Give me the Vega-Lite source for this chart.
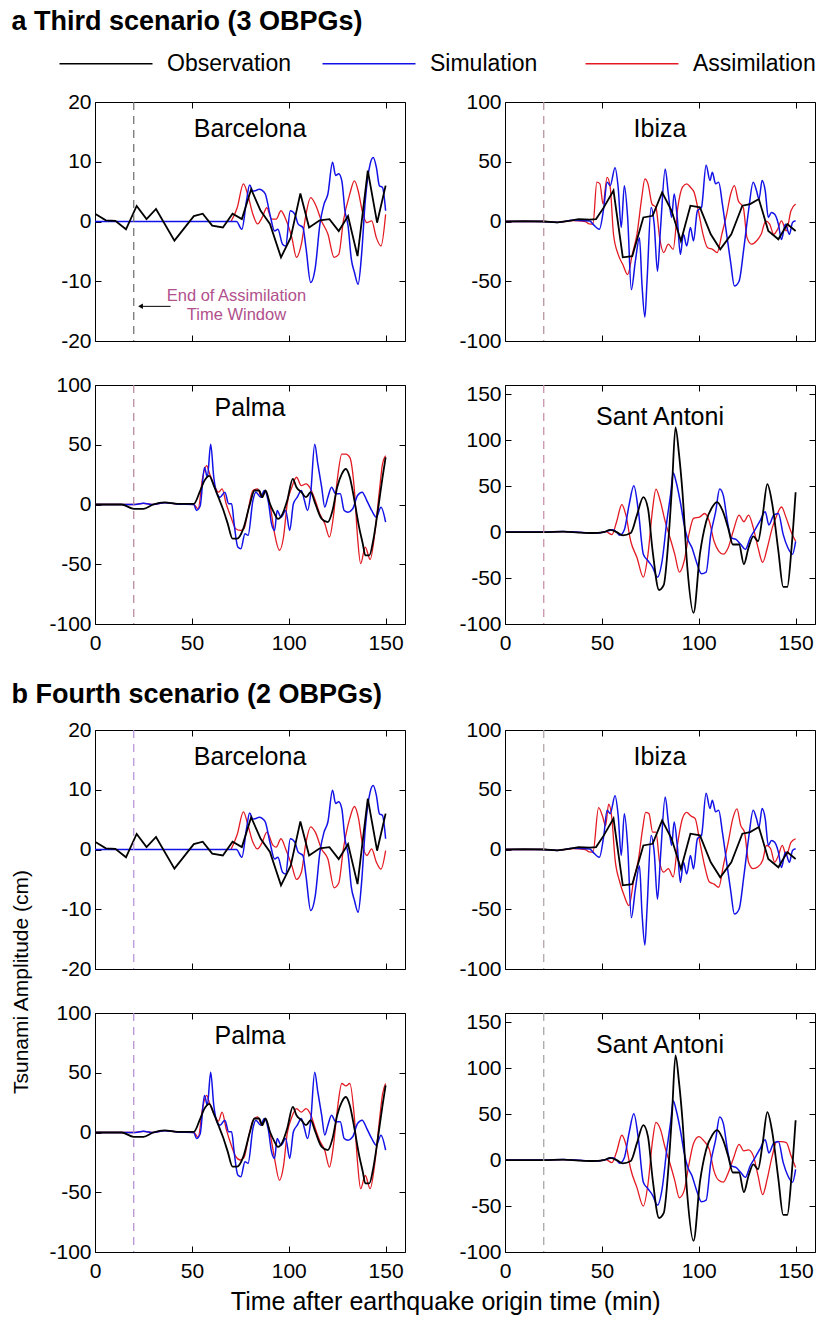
{
"$schema":"https://vega.github.io/schema/vega-lite/v6.json",
"background":"white",
"padding":{"left":11,"top":8,"right":2,"bottom":2},
"title":{"text":"a  Third scenario (3 OBPGs)","anchor":"start","frame":"bounds","fontSize":27,"fontWeight":"bold","offset":16,"color":"#000"},
"datasets":{
"win":[{"t":20}],
"note":[{"t":73,"v":-12.4,"label":"End of Assimilation"},{"t":73,"v":-15.6,"label":"Time Window"}],
"arrow":[{"t":39,"t2":23.5,"v":-14.2}],
"oB":[{"t":0,"v":1.3},{"t":5.6,"v":0.2},{"t":10.5,"v":0.1},{"t":16,"v":-1.3},{"t":21.5,"v":2.6},{"t":26.6,"v":0.4},{"t":31.5,"v":2.1},{"t":41,"v":-3.2},{"t":51,"v":0.9},{"t":55.6,"v":1.3},{"t":60.5,"v":-0.7},{"t":66,"v":-1.0},{"t":71,"v":1.3},{"t":75.8,"v":0.4},{"t":80.6,"v":5.4},{"t":85.5,"v":1.8},{"t":90.3,"v":-0.4},{"t":96,"v":-6.0},{"t":101,"v":-2.7},{"t":106,"v":4.7},{"t":110.5,"v":-1.0},{"t":116,"v":0.2},{"t":121,"v":0.4},{"t":125.8,"v":-1.6},{"t":130.6,"v":0.9},{"t":135.5,"v":-5.8},{"t":140.8,"v":8.5},{"t":145.6,"v":-0.2},{"t":150,"v":6.0}],
"sB":[{"t":0,"v":0},{"t":73,"v":0},{"t":75.8,"v":-1.3},{"t":78.2,"v":3.5},{"t":79.8,"v":6.1},{"t":81.5,"v":5.1},{"t":83.1,"v":5.2},{"t":84.7,"v":5.4},{"t":86.3,"v":5.2},{"t":87.9,"v":4.6},{"t":90.3,"v":1.2},{"t":92.7,"v":-1.6},{"t":94.4,"v":-1.3},{"t":96.8,"v":-3.8},{"t":98.4,"v":-4.1},{"t":100.8,"v":1.8},{"t":103.2,"v":1.2},{"t":104.8,"v":-0.4},{"t":107.3,"v":-1.0},{"t":108.9,"v":-4.4},{"t":111.3,"v":-10.2},{"t":113.7,"v":-7.7},{"t":116.1,"v":-0.4},{"t":118.2,"v":2.9},{"t":120.2,"v":4.6},{"t":122.6,"v":9.9},{"t":124.2,"v":7.7},{"t":125.8,"v":8.0},{"t":127.4,"v":6.8},{"t":129,"v":1.8},{"t":130.6,"v":-0.7},{"t":132.3,"v":-6.3},{"t":133.9,"v":-8.5},{"t":135.8,"v":-10.5},{"t":137.6,"v":-5.5},{"t":139.5,"v":3.5},{"t":142,"v":9.6},{"t":143.6,"v":10.7},{"t":145.2,"v":9.1},{"t":146.8,"v":6.0},{"t":148.4,"v":5.7},{"t":150,"v":1.8}],
"aBa":[{"t":70.2,"v":0},{"t":73.4,"v":2.3},{"t":76.6,"v":6.3},{"t":79,"v":4.3},{"t":81.5,"v":1.2},{"t":83.9,"v":-0.4},{"t":86.3,"v":0.7},{"t":88.7,"v":2.3},{"t":91.1,"v":0.4},{"t":93.5,"v":0.4},{"t":96,"v":1.8},{"t":98.4,"v":0.4},{"t":101.6,"v":-2.7},{"t":104,"v":-6.0},{"t":106.5,"v":-3.8},{"t":108.9,"v":1.2},{"t":111.3,"v":4.0},{"t":113.7,"v":2.9},{"t":116.9,"v":0.1},{"t":120.2,"v":-2.1},{"t":123.4,"v":-6.0},{"t":125.8,"v":-5.5},{"t":128.2,"v":0.1},{"t":131.5,"v":4.6},{"t":133.9,"v":6.8},{"t":136,"v":4.9},{"t":137.9,"v":1.8},{"t":140.3,"v":-0.2},{"t":142.8,"v":0.1},{"t":145.2,"v":-2.7},{"t":147.6,"v":-4.1},{"t":150,"v":1.2}],
"aBb":[{"t":70.2,"v":0},{"t":73.4,"v":2.5},{"t":76.6,"v":6.3},{"t":79,"v":4.0},{"t":81.5,"v":1.2},{"t":83.9,"v":0.1},{"t":86.3,"v":1.2},{"t":88.7,"v":2.9},{"t":91.9,"v":0.7},{"t":93.5,"v":0.4},{"t":96,"v":1.8},{"t":98.4,"v":0.1},{"t":101.6,"v":-2.7},{"t":104,"v":-5.0},{"t":106.5,"v":-3.8},{"t":108.9,"v":1.2},{"t":111.3,"v":3.8},{"t":113.7,"v":2.9},{"t":116.9,"v":0.1},{"t":120.2,"v":-1.6},{"t":123.4,"v":-6.4},{"t":125.8,"v":-5.6},{"t":128.2,"v":0.1},{"t":131.5,"v":5.2},{"t":133.9,"v":7.2},{"t":136,"v":5.2},{"t":137.9,"v":1.2},{"t":140.3,"v":-1.0},{"t":142.8,"v":0.1},{"t":145.2,"v":-2.1},{"t":147.6,"v":-3.3},{"t":150,"v":-0.2}],
"oI":[{"t":0,"v":0},{"t":10,"v":0.3},{"t":20,"v":0},{"t":27,"v":-0.8},{"t":33,"v":0.5},{"t":38,"v":2},{"t":43.8,"v":1.5},{"t":47,"v":2},{"t":51,"v":11.8},{"t":56,"v":25.9},{"t":60.8,"v":-30},{"t":65.7,"v":-29},{"t":71.4,"v":3.4},{"t":76.2,"v":4.8},{"t":81.1,"v":24.4},{"t":86,"v":9},{"t":90.8,"v":-16.3},{"t":95.7,"v":13.2},{"t":100.6,"v":11.8},{"t":106.2,"v":-10.7},{"t":111.1,"v":-23.3},{"t":116.8,"v":-10.7},{"t":122.5,"v":13.2},{"t":126.5,"v":14.6},{"t":131,"v":18.8},{"t":135.9,"v":-7.9},{"t":141.1,"v":-14.9},{"t":145.7,"v":-2.2},{"t":150,"v":-7.9}],
"sI":[{"t":0,"v":0},{"t":20,"v":0},{"t":27,"v":-0.8},{"t":35,"v":1},{"t":43.8,"v":0.5},{"t":45.4,"v":-2.2},{"t":48.7,"v":-6.5},{"t":51,"v":11.8},{"t":52.7,"v":32.9},{"t":54.3,"v":30},{"t":56.8,"v":45},{"t":58.4,"v":28.7},{"t":60,"v":-5},{"t":61.6,"v":30},{"t":63.3,"v":3.4},{"t":65.2,"v":-57},{"t":67.3,"v":-33},{"t":69.4,"v":-13.5},{"t":70.7,"v":-52.8},{"t":72.2,"v":-80},{"t":73.3,"v":-50},{"t":75.4,"v":11.8},{"t":77,"v":-2.2},{"t":78.7,"v":-41.6},{"t":80.3,"v":-5},{"t":82.7,"v":44},{"t":84.3,"v":23},{"t":86,"v":3.4},{"t":87.3,"v":23},{"t":88.9,"v":3.4},{"t":90.5,"v":-27.5},{"t":92.1,"v":-10.7},{"t":93.8,"v":-20.5},{"t":95.7,"v":-5},{"t":97.3,"v":-16.3},{"t":99.3,"v":9},{"t":101.4,"v":11.8},{"t":103.8,"v":47},{"t":105.8,"v":34.3},{"t":107,"v":41.3},{"t":108.7,"v":31.5},{"t":110.3,"v":32.9},{"t":112.2,"v":14.6},{"t":114.4,"v":-10.7},{"t":116.5,"v":-34.6},{"t":118.4,"v":-54},{"t":120.8,"v":-50},{"t":123.3,"v":-22},{"t":125.7,"v":9},{"t":128.1,"v":32.9},{"t":129.8,"v":25.9},{"t":131.1,"v":18.8},{"t":132.7,"v":34.3},{"t":134.3,"v":25.9},{"t":135.9,"v":3.4},{"t":137.5,"v":7.6},{"t":139.2,"v":6},{"t":141.1,"v":-2.2},{"t":142.7,"v":-15},{"t":144.7,"v":-2.2},{"t":146.8,"v":-10.7},{"t":148.4,"v":-0.8},{"t":150,"v":0.6}],
"aIa":[{"t":0,"v":0},{"t":20,"v":0},{"t":27,"v":-0.8},{"t":35,"v":0.8},{"t":41.4,"v":0},{"t":43.5,"v":-2},{"t":45.4,"v":-2.2},{"t":47.4,"v":32.9},{"t":49,"v":31.5},{"t":50.6,"v":14.6},{"t":52.7,"v":37},{"t":54.3,"v":28.7},{"t":56,"v":-10.7},{"t":58.4,"v":-27.5},{"t":60.8,"v":-36},{"t":63.3,"v":-44.4},{"t":65.7,"v":-27.5},{"t":68.1,"v":-10.7},{"t":70.6,"v":20.2},{"t":72.2,"v":35.7},{"t":73.8,"v":31.5},{"t":75.9,"v":14.6},{"t":77.9,"v":11.8},{"t":79.8,"v":-13.5},{"t":81.9,"v":-26},{"t":84.3,"v":-19},{"t":86.8,"v":-23.3},{"t":89.2,"v":11.8},{"t":91.6,"v":28.7},{"t":93.8,"v":31.5},{"t":95.7,"v":28.7},{"t":97.6,"v":24.4},{"t":99.8,"v":9},{"t":102.2,"v":-10.7},{"t":104.6,"v":-22},{"t":107.1,"v":-23.3},{"t":109.5,"v":-26},{"t":111.9,"v":-10.7},{"t":114.4,"v":6},{"t":116.5,"v":23},{"t":118.4,"v":30},{"t":120.4,"v":17.4},{"t":123,"v":11.8},{"t":124.9,"v":-13.5},{"t":127.3,"v":-19},{"t":129.8,"v":-16.3},{"t":132.2,"v":-10.7},{"t":134.6,"v":0.6},{"t":136.6,"v":-2.2},{"t":138.7,"v":-10.7},{"t":140.7,"v":-6.5},{"t":142.7,"v":0.6},{"t":145.2,"v":-7.9},{"t":147.6,"v":9},{"t":150,"v":14.6}],
"aIb":[{"t":0,"v":0},{"t":20,"v":0},{"t":27,"v":-0.8},{"t":35,"v":0.8},{"t":41.4,"v":0},{"t":43.5,"v":-2},{"t":45.4,"v":-2.2},{"t":48.3,"v":35},{"t":50.3,"v":28},{"t":51.9,"v":20},{"t":53.5,"v":38},{"t":55.1,"v":27},{"t":56.8,"v":-8},{"t":59.2,"v":-27},{"t":61.6,"v":-39},{"t":64,"v":-47},{"t":66.5,"v":-25},{"t":68.9,"v":-8},{"t":71,"v":17},{"t":72.6,"v":31},{"t":74.3,"v":30},{"t":76.2,"v":14.6},{"t":77.9,"v":14.6},{"t":79.8,"v":-10.6},{"t":81.9,"v":-19},{"t":84.3,"v":-16},{"t":86.8,"v":-23},{"t":89.2,"v":6},{"t":91.6,"v":26},{"t":93.8,"v":31},{"t":96,"v":28},{"t":98.1,"v":26},{"t":100.6,"v":6},{"t":103,"v":-13.4},{"t":105.4,"v":-27},{"t":107.9,"v":-29},{"t":110.3,"v":-31.6},{"t":112.7,"v":-13.4},{"t":115.2,"v":6},{"t":117.6,"v":26},{"t":119.7,"v":34},{"t":121.7,"v":20},{"t":123.6,"v":14.6},{"t":125.7,"v":-10.6},{"t":128.1,"v":-16},{"t":130.6,"v":-14.5},{"t":133,"v":-9},{"t":135,"v":3.4},{"t":137.1,"v":0.6},{"t":139.2,"v":-10.6},{"t":141.1,"v":-5},{"t":143.1,"v":3.4},{"t":145.2,"v":-5},{"t":147.6,"v":6},{"t":150,"v":9}],
"oP":[{"t":0,"v":0},{"t":13.7,"v":0},{"t":20,"v":-3.6},{"t":25,"v":-3.6},{"t":30,"v":0},{"t":36,"v":1.7},{"t":42.7,"v":0.6},{"t":51,"v":0.6},{"t":54,"v":10.3},{"t":56.5,"v":20},{"t":59,"v":24},{"t":61.3,"v":15.8},{"t":63.7,"v":6.1},{"t":66,"v":-3.6},{"t":68.5,"v":-16},{"t":71,"v":-28.6},{"t":73.4,"v":-28.6},{"t":76.6,"v":-20},{"t":80,"v":0.6},{"t":82.3,"v":11.7},{"t":84.7,"v":11.7},{"t":86.3,"v":6.1},{"t":88,"v":11.7},{"t":90.3,"v":0.6},{"t":92.7,"v":-7.8},{"t":94.4,"v":-12},{"t":96.8,"v":-7.8},{"t":99.2,"v":3.3},{"t":102.1,"v":21.4},{"t":104,"v":14.4},{"t":106.5,"v":10.3},{"t":108.9,"v":6.1},{"t":111.3,"v":10.3},{"t":113.7,"v":0.6},{"t":117,"v":-12},{"t":120.2,"v":-14.7},{"t":122.6,"v":-5},{"t":125,"v":14.4},{"t":127.4,"v":25.6},{"t":129.5,"v":29.7},{"t":131.5,"v":22.8},{"t":133.9,"v":3.3},{"t":136.3,"v":-18.9},{"t":138.2,"v":-32.8},{"t":139.5,"v":-42.5},{"t":141.6,"v":-42.5},{"t":143.6,"v":-30},{"t":146,"v":-5},{"t":148.4,"v":22.8},{"t":150,"v":39.4}],
"sP":[{"t":0,"v":0},{"t":20,"v":0},{"t":25,"v":1},{"t":30,"v":0},{"t":36,"v":1.5},{"t":42,"v":0.5},{"t":51,"v":0},{"t":52.4,"v":-5},{"t":54.3,"v":-1},{"t":56.5,"v":31},{"t":58,"v":22.8},{"t":59.7,"v":50.5},{"t":61.3,"v":22.8},{"t":63,"v":8.9},{"t":64.6,"v":6.1},{"t":67,"v":10.3},{"t":69,"v":0.6},{"t":70.5,"v":0.6},{"t":71.8,"v":-16},{"t":73.7,"v":-35.6},{"t":75.3,"v":-37},{"t":77.4,"v":-24.4},{"t":79,"v":-25.8},{"t":81.5,"v":3.3},{"t":83,"v":10.3},{"t":85.5,"v":6.1},{"t":87.4,"v":11.7},{"t":89.5,"v":1.9},{"t":91.1,"v":-16},{"t":92.7,"v":-21.7},{"t":94,"v":-5},{"t":96,"v":-10.6},{"t":98.4,"v":-5},{"t":100.5,"v":-21.7},{"t":102.4,"v":0.6},{"t":104.4,"v":6.1},{"t":106.5,"v":11.7},{"t":108.1,"v":3.3},{"t":109.7,"v":-5},{"t":111.3,"v":8.9},{"t":113.4,"v":50.5},{"t":115,"v":33.9},{"t":117,"v":14.4},{"t":118.6,"v":-2.2},{"t":120.2,"v":6.1},{"t":122.1,"v":14.4},{"t":124.2,"v":8.9},{"t":126.6,"v":8.9},{"t":128.6,"v":-5},{"t":130.6,"v":-6.4},{"t":133,"v":-3.6},{"t":135.5,"v":7.5},{"t":137.9,"v":10.3},{"t":140.3,"v":3.3},{"t":142.8,"v":-5},{"t":145.2,"v":-10.6},{"t":147.6,"v":-2.2},{"t":150,"v":-14.7}],
"aPa":[{"t":0,"v":0},{"t":20,"v":0},{"t":25,"v":1},{"t":30,"v":0},{"t":36,"v":1.5},{"t":42,"v":0.5},{"t":51,"v":0},{"t":53.2,"v":-3.6},{"t":55.6,"v":22.8},{"t":57.6,"v":32.5},{"t":59.2,"v":25.6},{"t":61.3,"v":17.2},{"t":63.7,"v":10.3},{"t":65.6,"v":13},{"t":67.7,"v":0.6},{"t":70.2,"v":-10.6},{"t":72.6,"v":-20.3},{"t":75,"v":-21.7},{"t":76.9,"v":-20.3},{"t":79,"v":-5},{"t":81.5,"v":11.7},{"t":83.9,"v":13},{"t":86,"v":6.1},{"t":88,"v":10.3},{"t":90.5,"v":-2.2},{"t":92.7,"v":-24.4},{"t":95.2,"v":-38.3},{"t":97.3,"v":-27.2},{"t":99.2,"v":0.6},{"t":101.6,"v":14.4},{"t":104,"v":22.8},{"t":106.5,"v":15.8},{"t":108.9,"v":17.2},{"t":111.3,"v":13},{"t":113.7,"v":3.3},{"t":116,"v":-7.8},{"t":118.6,"v":-16},{"t":121,"v":-27.2},{"t":123,"v":-10.6},{"t":125,"v":20},{"t":127.4,"v":42.2},{"t":129.5,"v":42.2},{"t":131.5,"v":39.4},{"t":133.9,"v":11.7},{"t":135.5,"v":-27.2},{"t":137.1,"v":-49.4},{"t":139.5,"v":-35.6},{"t":142,"v":-46},{"t":144.4,"v":-24.4},{"t":146.8,"v":11.7},{"t":148.4,"v":33.9},{"t":150,"v":40.8}],
"aPb":[{"t":0,"v":0},{"t":20,"v":0},{"t":25,"v":1},{"t":30,"v":0},{"t":36,"v":1.5},{"t":42,"v":0.5},{"t":51,"v":0},{"t":53.2,"v":-4},{"t":55.6,"v":21},{"t":57.6,"v":31},{"t":59.2,"v":24},{"t":61.3,"v":16},{"t":63.7,"v":9.5},{"t":65.6,"v":17},{"t":67.7,"v":3},{"t":70.2,"v":-10},{"t":72.6,"v":-20},{"t":75,"v":-23},{"t":76.9,"v":-21},{"t":79,"v":-6},{"t":81.5,"v":10},{"t":83.9,"v":13},{"t":86,"v":7},{"t":88,"v":11},{"t":90.5,"v":-2.2},{"t":92.7,"v":-22},{"t":95.2,"v":-40},{"t":97.3,"v":-28},{"t":99.2,"v":-1},{"t":101.6,"v":13},{"t":104,"v":20},{"t":106.5,"v":17},{"t":108.9,"v":20},{"t":111.3,"v":15},{"t":113.7,"v":3.3},{"t":116,"v":-7},{"t":118.6,"v":-15},{"t":121,"v":-29},{"t":123,"v":-12},{"t":125,"v":18},{"t":127.4,"v":41},{"t":129.5,"v":39},{"t":131.5,"v":41},{"t":133.9,"v":12},{"t":135.5,"v":-25},{"t":137.1,"v":-47},{"t":139.5,"v":-36},{"t":142,"v":-47},{"t":144.4,"v":-26},{"t":146.8,"v":10},{"t":148.4,"v":32},{"t":150,"v":41}],
"oS":[{"t":0,"v":0},{"t":20,"v":0},{"t":30,"v":0.5},{"t":38,"v":-0.5},{"t":45,"v":-1},{"t":51,"v":0},{"t":54.3,"v":2.5},{"t":57.6,"v":0},{"t":60.8,"v":-3.5},{"t":64.9,"v":-1},{"t":68.1,"v":18.4},{"t":71.4,"v":38},{"t":73.8,"v":25.5},{"t":76.2,"v":-20.6},{"t":79.5,"v":-63},{"t":81.9,"v":-57.8},{"t":84.3,"v":-9.9},{"t":86.2,"v":50},{"t":88,"v":114},{"t":89.8,"v":85},{"t":91.6,"v":43.3},{"t":94.1,"v":-38.3},{"t":97.3,"v":-88},{"t":100.6,"v":-24},{"t":103.8,"v":11.3},{"t":107,"v":27.3},{"t":109.5,"v":32.6},{"t":112.2,"v":23.8},{"t":115.2,"v":4.3},{"t":117.6,"v":-13.5},{"t":120.8,"v":-13.5},{"t":123.3,"v":-34.8},{"t":125.7,"v":-17},{"t":128.2,"v":-4.6},{"t":130.6,"v":-10},{"t":133,"v":18.4},{"t":135.4,"v":52.1},{"t":137.9,"v":30.9},{"t":141.1,"v":-20.6},{"t":143.6,"v":-59.6},{"t":145.7,"v":-59.6},{"t":147.9,"v":-17},{"t":150,"v":43.3}],
"sS":[{"t":0,"v":0},{"t":20,"v":0},{"t":30,"v":0.5},{"t":40,"v":-0.5},{"t":48,"v":-1},{"t":52,"v":0.5},{"t":55.6,"v":2.5},{"t":57.6,"v":0},{"t":59.2,"v":-3.5},{"t":61.6,"v":2.5},{"t":64,"v":29},{"t":66.5,"v":50.4},{"t":68.9,"v":22},{"t":71.4,"v":-24},{"t":73.8,"v":-31.2},{"t":76.2,"v":-38.3},{"t":78.7,"v":-49},{"t":81.1,"v":-31.2},{"t":83.5,"v":11.3},{"t":85.6,"v":43.3},{"t":86.8,"v":64.5},{"t":88.4,"v":53.9},{"t":90.5,"v":32.6},{"t":92.5,"v":7.8},{"t":94.1,"v":-6.4},{"t":96.5,"v":-17},{"t":98.9,"v":-33},{"t":101.4,"v":-45.4},{"t":103.8,"v":-43.6},{"t":106.2,"v":-2.8},{"t":108.7,"v":22},{"t":110.8,"v":46.8},{"t":112.7,"v":39.7},{"t":114.8,"v":11.3},{"t":116.8,"v":-6.4},{"t":119.2,"v":-8},{"t":121.7,"v":-13.5},{"t":124.1,"v":-18.8},{"t":126.5,"v":-6.4},{"t":129,"v":2.5},{"t":131.4,"v":11.3},{"t":134.3,"v":22},{"t":136.2,"v":7.8},{"t":138.7,"v":18.4},{"t":141.1,"v":20.2},{"t":143.6,"v":-2.8},{"t":146,"v":-17},{"t":148.4,"v":-24},{"t":150,"v":-10}],
"aSa":[{"t":0,"v":0},{"t":20,"v":0},{"t":30,"v":0.5},{"t":40,"v":-0.5},{"t":48,"v":-1},{"t":52,"v":0.5},{"t":55.2,"v":-2.8},{"t":57.6,"v":11.3},{"t":60.3,"v":29.8},{"t":62.4,"v":18.4},{"t":64.9,"v":-10},{"t":68.1,"v":-27.7},{"t":71.4,"v":-49},{"t":73.8,"v":-24},{"t":76.2,"v":25.5},{"t":77.9,"v":46.8},{"t":80.3,"v":32.6},{"t":82.7,"v":11.3},{"t":85.2,"v":-6.4},{"t":87.6,"v":-24},{"t":90,"v":-43.6},{"t":92.5,"v":-31.2},{"t":94.9,"v":-2.8},{"t":97.3,"v":14.9},{"t":100.6,"v":16.5},{"t":103,"v":20.2},{"t":105.4,"v":12},{"t":107.9,"v":-10},{"t":110.3,"v":-20.6},{"t":112.7,"v":-24},{"t":115.2,"v":-17},{"t":118,"v":2.5},{"t":120.8,"v":18.4},{"t":123.3,"v":11.3},{"t":125.7,"v":18.4},{"t":128.2,"v":4.3},{"t":130.6,"v":-17},{"t":133,"v":-33},{"t":135.4,"v":-17},{"t":137.9,"v":4.3},{"t":140.3,"v":18.4},{"t":142.7,"v":27.3},{"t":145.2,"v":14.9},{"t":147.6,"v":0.7},{"t":150,"v":-10}],
"aSb":[{"t":0,"v":0},{"t":20,"v":0},{"t":30,"v":0.5},{"t":40,"v":-0.5},{"t":48,"v":-1},{"t":52,"v":0.5},{"t":55.2,"v":-2.8},{"t":57.6,"v":9},{"t":60.3,"v":27},{"t":62.4,"v":17},{"t":64.9,"v":-10},{"t":68.1,"v":-30},{"t":71.4,"v":-50},{"t":73.8,"v":-26},{"t":76.2,"v":22},{"t":77.9,"v":41},{"t":80.3,"v":33},{"t":82.7,"v":13},{"t":85.2,"v":-4},{"t":87.6,"v":-22},{"t":90,"v":-41},{"t":92.5,"v":-33},{"t":94.9,"v":-5},{"t":97.3,"v":18},{"t":100,"v":25.6},{"t":103,"v":20},{"t":105.4,"v":12},{"t":107.9,"v":-12},{"t":110.3,"v":-22},{"t":112.7,"v":-24},{"t":115.2,"v":-14},{"t":118,"v":2.5},{"t":120.8,"v":17},{"t":123.3,"v":10},{"t":125.7,"v":11},{"t":128.2,"v":4.3},{"t":130.6,"v":-17},{"t":133,"v":-37.5},{"t":135.4,"v":-20},{"t":137.9,"v":4.3},{"t":140.3,"v":20},{"t":142.7,"v":20},{"t":145.2,"v":19},{"t":147.6,"v":5},{"t":150,"v":-8}]
},
"vconcat":[
{
"title":{"text":" ","orient":"left","fontSize":21,"offset":16,"anchor":"middle"},
"columns":2,
"spacing":{"row":21,"column":52},
"concat":[
{"width":310,"height":239,
 "title":{"text":"Barcelona","fontSize":25,"fontWeight":"normal","offset":-51,"frame":"group","anchor":"middle"},
 "layer":[
  {"data":{"name":"aBa"},"mark":{"type":"line","strokeWidth":1.3,"clip":true,"interpolate":"monotone"},
   "encoding":{"x":{"field":"t","type":"quantitative","title":null,"scale":{"domain":[0,150]},"axis":{"orient":"bottom","values":[0,50,100,150],"labels":false}},
   "y":{"field":"v","type":"quantitative","title":null,"scale":{"domain":[-20,20]},"axis":{"orient":"left","values":[-20,-10,0,10,20]}},
   "color":{"datum":"Assimilation","type":"nominal","title":null,"scale":{"domain":["Observation","Simulation","Assimilation"],"range":["#000000","#1212e8","#e31a22"]},
     "legend":{"orient":"none","legendX":-47,"legendY":-50,"direction":"horizontal","columns":3,"gridAlign":"all","symbolType":"M0,0H9","symbolSize":427,"symbolStrokeWidth":1.5,"labelFontSize":23,"labelColor":"#000","labelOffset":96,"columnPadding":19,"padding":0}}}},
  {"data":{"name":"sB"},"mark":{"type":"line","strokeWidth":1.5,"clip":true,"interpolate":"monotone"},
   "encoding":{"x":{"field":"t","type":"quantitative","title":null,"axis":{"orient":"top","values":[0,50,100,150],"labels":false}},
   "y":{"field":"v","type":"quantitative","title":null,"axis":{"orient":"right","values":[-20,-10,0,10,20],"labels":false}},
   "color":{"datum":"Simulation","type":"nominal","title":null,"scale":{"domain":["Observation","Simulation","Assimilation"],"range":["#000000","#1212e8","#e31a22"]}}}},
  {"data":{"name":"oB"},"mark":{"type":"line","strokeWidth":1.8,"clip":true},
   "encoding":{"x":{"field":"t","type":"quantitative","axis":null},"y":{"field":"v","type":"quantitative","axis":null},
   "color":{"datum":"Observation","type":"nominal","title":null,"scale":{"domain":["Observation","Simulation","Assimilation"],"range":["#000000","#1212e8","#e31a22"]}}}},
  {"data":{"name":"win"},"mark":{"type":"rule","strokeDash":[8,6],"color":"#6b6b6b","strokeWidth":1.2},
   "encoding":{"x":{"field":"t","type":"quantitative","axis":null}}},
  {"data":{"name":"note"},"mark":{"type":"text","color":"#b0508c","fontSize":16.5},
   "encoding":{"x":{"field":"t","type":"quantitative","axis":null},"y":{"field":"v","type":"quantitative","axis":null},"text":{"field":"label"}}},
  {"data":{"name":"arrow"},"mark":{"type":"rule","color":"#000","strokeWidth":1},
   "encoding":{"x":{"field":"t","type":"quantitative","axis":null},"x2":{"field":"t2"},"y":{"field":"v","type":"quantitative","axis":null}}},
  {"data":{"name":"arrow"},"mark":{"type":"point","shape":"triangle-left","filled":true,"color":"#000","size":30,"opacity":1},
   "encoding":{"x":{"field":"t2","type":"quantitative","axis":null},"y":{"field":"v","type":"quantitative","axis":null}}}
 ],
 "resolve":{"axis":{"x":"independent","y":"independent"}}
},
{"width":310,"height":239,
 "title":{"text":"Ibiza","fontSize":25,"fontWeight":"normal","offset":-51,"frame":"group","anchor":"middle"},
 "layer":[
  {"data":{"name":"aIa"},"mark":{"type":"line","strokeWidth":1.3,"clip":true,"interpolate":"monotone"},
   "encoding":{"x":{"field":"t","type":"quantitative","title":null,"scale":{"domain":[0,150]},"axis":{"orient":"bottom","values":[0,50,100,150],"labels":false}},
   "y":{"field":"v","type":"quantitative","title":null,"scale":{"domain":[-100,100]},"axis":{"orient":"left","values":[-100,-50,0,50,100]}},
   "color":{"datum":"Assimilation","type":"nominal","title":null,"scale":{"domain":["Observation","Simulation","Assimilation"],"range":["#000000","#1212e8","#e31a22"]}}}},
  {"data":{"name":"sI"},"mark":{"type":"line","strokeWidth":1.5,"clip":true,"interpolate":"monotone"},
   "encoding":{"x":{"field":"t","type":"quantitative","title":null,"axis":{"orient":"top","values":[0,50,100,150],"labels":false}},
   "y":{"field":"v","type":"quantitative","title":null,"axis":{"orient":"right","values":[-100,-50,0,50,100],"labels":false}},
   "color":{"datum":"Simulation","type":"nominal","title":null,"scale":{"domain":["Observation","Simulation","Assimilation"],"range":["#000000","#1212e8","#e31a22"]}}}},
  {"data":{"name":"oI"},"mark":{"type":"line","strokeWidth":1.8,"clip":true},
   "encoding":{"x":{"field":"t","type":"quantitative","axis":null},"y":{"field":"v","type":"quantitative","axis":null},
   "color":{"datum":"Observation","type":"nominal","title":null,"scale":{"domain":["Observation","Simulation","Assimilation"],"range":["#000000","#1212e8","#e31a22"]}}}},
  {"data":{"name":"win"},"mark":{"type":"rule","strokeDash":[8,6],"color":"#b48c94","strokeWidth":1.2},
   "encoding":{"x":{"field":"t","type":"quantitative","axis":null}}}
 ],
 "resolve":{"axis":{"x":"independent","y":"independent"}}
},
{"width":310,"height":239,
 "title":{"text":"Palma","fontSize":25,"fontWeight":"normal","offset":-47,"frame":"group","anchor":"middle"},
 "layer":[
  {"data":{"name":"aPa"},"mark":{"type":"line","strokeWidth":1.3,"clip":true,"interpolate":"monotone"},
   "encoding":{"x":{"field":"t","type":"quantitative","title":null,"scale":{"domain":[0,150]},"axis":{"orient":"bottom","values":[0,50,100,150],"labels":true}},
   "y":{"field":"v","type":"quantitative","title":null,"scale":{"domain":[-100,100]},"axis":{"orient":"left","values":[-100,-50,0,50,100]}},
   "color":{"datum":"Assimilation","type":"nominal","title":null,"scale":{"domain":["Observation","Simulation","Assimilation"],"range":["#000000","#1212e8","#e31a22"]}}}},
  {"data":{"name":"sP"},"mark":{"type":"line","strokeWidth":1.5,"clip":true,"interpolate":"monotone"},
   "encoding":{"x":{"field":"t","type":"quantitative","title":null,"axis":{"orient":"top","values":[0,50,100,150],"labels":false}},
   "y":{"field":"v","type":"quantitative","title":null,"axis":{"orient":"right","values":[-100,-50,0,50,100],"labels":false}},
   "color":{"datum":"Simulation","type":"nominal","title":null,"scale":{"domain":["Observation","Simulation","Assimilation"],"range":["#000000","#1212e8","#e31a22"]}}}},
  {"data":{"name":"oP"},"mark":{"type":"line","strokeWidth":1.8,"clip":true,"interpolate":"monotone"},
   "encoding":{"x":{"field":"t","type":"quantitative","axis":null},"y":{"field":"v","type":"quantitative","axis":null},
   "color":{"datum":"Observation","type":"nominal","title":null,"scale":{"domain":["Observation","Simulation","Assimilation"],"range":["#000000","#1212e8","#e31a22"]}}}},
  {"data":{"name":"win"},"mark":{"type":"rule","strokeDash":[8,6],"color":"#b4849a","strokeWidth":1.2},
   "encoding":{"x":{"field":"t","type":"quantitative","axis":null}}}
 ],
 "resolve":{"axis":{"x":"independent","y":"independent"}}
},
{"width":310,"height":239,
 "title":{"text":"Sant Antoni","fontSize":25,"fontWeight":"normal","offset":-47,"frame":"group","anchor":"middle"},
 "layer":[
  {"data":{"name":"aSa"},"mark":{"type":"line","strokeWidth":1.3,"clip":true,"interpolate":"monotone"},
   "encoding":{"x":{"field":"t","type":"quantitative","title":null,"scale":{"domain":[0,150]},"axis":{"orient":"bottom","values":[0,50,100,150],"labels":true}},
   "y":{"field":"v","type":"quantitative","title":null,"scale":{"domain":[-100,150]},"axis":{"orient":"left","values":[-100,-50,0,50,100,150]}},
   "color":{"datum":"Assimilation","type":"nominal","title":null,"scale":{"domain":["Observation","Simulation","Assimilation"],"range":["#000000","#1212e8","#e31a22"]}}}},
  {"data":{"name":"sS"},"mark":{"type":"line","strokeWidth":1.5,"clip":true,"interpolate":"monotone"},
   "encoding":{"x":{"field":"t","type":"quantitative","title":null,"axis":{"orient":"top","values":[0,50,100,150],"labels":false}},
   "y":{"field":"v","type":"quantitative","title":null,"axis":{"orient":"right","values":[-100,-50,0,50,100,150],"labels":false}},
   "color":{"datum":"Simulation","type":"nominal","title":null,"scale":{"domain":["Observation","Simulation","Assimilation"],"range":["#000000","#1212e8","#e31a22"]}}}},
  {"data":{"name":"oS"},"mark":{"type":"line","strokeWidth":1.8,"clip":true,"interpolate":"monotone"},
   "encoding":{"x":{"field":"t","type":"quantitative","axis":null},"y":{"field":"v","type":"quantitative","axis":null},
   "color":{"datum":"Observation","type":"nominal","title":null,"scale":{"domain":["Observation","Simulation","Assimilation"],"range":["#000000","#1212e8","#e31a22"]}}}},
  {"data":{"name":"win"},"mark":{"type":"rule","strokeDash":[8,6],"color":"#c48aa4","strokeWidth":1.2},
   "encoding":{"x":{"field":"t","type":"quantitative","axis":null}}}
 ],
 "resolve":{"axis":{"x":"independent","y":"independent"}}
}
]
},
{
"title":{"text":"b  Fourth scenario (2 OBPGs)","anchor":"start","frame":"bounds","fontSize":27,"fontWeight":"bold","offset":10,"color":"#000"},
"vconcat":[
{
"title":{"text":"Time after earthquake origin time (min)","orient":"bottom","fontSize":25,"fontWeight":"normal","offset":8,"anchor":"middle","dx":32,"color":"#000"},
"vconcat":[
{
"title":{"text":"Tsunami Amplitude (cm)","orient":"left","fontSize":21,"fontWeight":"normal","offset":16,"anchor":"middle","dx":18,"color":"#000"},
"columns":2,
"spacing":{"row":21,"column":52},
"concat":[
{"width":310,"height":239,
 "title":{"text":"Barcelona","fontSize":25,"fontWeight":"normal","offset":-51,"frame":"group","anchor":"middle"},
 "layer":[
  {"data":{"name":"aBb"},"mark":{"type":"line","strokeWidth":1.3,"clip":true,"interpolate":"monotone"},
   "encoding":{"x":{"field":"t","type":"quantitative","title":null,"scale":{"domain":[0,150]},"axis":{"orient":"bottom","values":[0,50,100,150],"labels":false}},
   "y":{"field":"v","type":"quantitative","title":null,"scale":{"domain":[-20,20]},"axis":{"orient":"left","values":[-20,-10,0,10,20]}},
   "color":{"datum":"Assimilation","type":"nominal","title":null,"scale":{"domain":["Observation","Simulation","Assimilation"],"range":["#000000","#1212e8","#e31a22"]}}}},
  {"data":{"name":"sB"},"mark":{"type":"line","strokeWidth":1.5,"clip":true,"interpolate":"monotone"},
   "encoding":{"x":{"field":"t","type":"quantitative","title":null,"axis":{"orient":"top","values":[0,50,100,150],"labels":false}},
   "y":{"field":"v","type":"quantitative","title":null,"axis":{"orient":"right","values":[-20,-10,0,10,20],"labels":false}},
   "color":{"datum":"Simulation","type":"nominal","title":null,"scale":{"domain":["Observation","Simulation","Assimilation"],"range":["#000000","#1212e8","#e31a22"]}}}},
  {"data":{"name":"oB"},"mark":{"type":"line","strokeWidth":1.8,"clip":true},
   "encoding":{"x":{"field":"t","type":"quantitative","axis":null},"y":{"field":"v","type":"quantitative","axis":null},
   "color":{"datum":"Observation","type":"nominal","title":null,"scale":{"domain":["Observation","Simulation","Assimilation"],"range":["#000000","#1212e8","#e31a22"]}}}},
  {"data":{"name":"win"},"mark":{"type":"rule","strokeDash":[8,6],"color":"#b48ed8","strokeWidth":1.2},
   "encoding":{"x":{"field":"t","type":"quantitative","axis":null}}}
 ],
 "resolve":{"axis":{"x":"independent","y":"independent"}}
},
{"width":310,"height":239,
 "title":{"text":"Ibiza","fontSize":25,"fontWeight":"normal","offset":-51,"frame":"group","anchor":"middle"},
 "layer":[
  {"data":{"name":"aIb"},"mark":{"type":"line","strokeWidth":1.3,"clip":true,"interpolate":"monotone"},
   "encoding":{"x":{"field":"t","type":"quantitative","title":null,"scale":{"domain":[0,150]},"axis":{"orient":"bottom","values":[0,50,100,150],"labels":false}},
   "y":{"field":"v","type":"quantitative","title":null,"scale":{"domain":[-100,100]},"axis":{"orient":"left","values":[-100,-50,0,50,100]}},
   "color":{"datum":"Assimilation","type":"nominal","title":null,"scale":{"domain":["Observation","Simulation","Assimilation"],"range":["#000000","#1212e8","#e31a22"]}}}},
  {"data":{"name":"sI"},"mark":{"type":"line","strokeWidth":1.5,"clip":true,"interpolate":"monotone"},
   "encoding":{"x":{"field":"t","type":"quantitative","title":null,"axis":{"orient":"top","values":[0,50,100,150],"labels":false}},
   "y":{"field":"v","type":"quantitative","title":null,"axis":{"orient":"right","values":[-100,-50,0,50,100],"labels":false}},
   "color":{"datum":"Simulation","type":"nominal","title":null,"scale":{"domain":["Observation","Simulation","Assimilation"],"range":["#000000","#1212e8","#e31a22"]}}}},
  {"data":{"name":"oI"},"mark":{"type":"line","strokeWidth":1.8,"clip":true},
   "encoding":{"x":{"field":"t","type":"quantitative","axis":null},"y":{"field":"v","type":"quantitative","axis":null},
   "color":{"datum":"Observation","type":"nominal","title":null,"scale":{"domain":["Observation","Simulation","Assimilation"],"range":["#000000","#1212e8","#e31a22"]}}}},
  {"data":{"name":"win"},"mark":{"type":"rule","strokeDash":[8,6],"color":"#b0a0a0","strokeWidth":1.2},
   "encoding":{"x":{"field":"t","type":"quantitative","axis":null}}}
 ],
 "resolve":{"axis":{"x":"independent","y":"independent"}}
},
{"width":310,"height":239,
 "title":{"text":"Palma","fontSize":25,"fontWeight":"normal","offset":-47,"frame":"group","anchor":"middle"},
 "layer":[
  {"data":{"name":"aPb"},"mark":{"type":"line","strokeWidth":1.3,"clip":true,"interpolate":"monotone"},
   "encoding":{"x":{"field":"t","type":"quantitative","title":null,"scale":{"domain":[0,150]},"axis":{"orient":"bottom","values":[0,50,100,150],"labels":true}},
   "y":{"field":"v","type":"quantitative","title":null,"scale":{"domain":[-100,100]},"axis":{"orient":"left","values":[-100,-50,0,50,100]}},
   "color":{"datum":"Assimilation","type":"nominal","title":null,"scale":{"domain":["Observation","Simulation","Assimilation"],"range":["#000000","#1212e8","#e31a22"]}}}},
  {"data":{"name":"sP"},"mark":{"type":"line","strokeWidth":1.5,"clip":true,"interpolate":"monotone"},
   "encoding":{"x":{"field":"t","type":"quantitative","title":null,"axis":{"orient":"top","values":[0,50,100,150],"labels":false}},
   "y":{"field":"v","type":"quantitative","title":null,"axis":{"orient":"right","values":[-100,-50,0,50,100],"labels":false}},
   "color":{"datum":"Simulation","type":"nominal","title":null,"scale":{"domain":["Observation","Simulation","Assimilation"],"range":["#000000","#1212e8","#e31a22"]}}}},
  {"data":{"name":"oP"},"mark":{"type":"line","strokeWidth":1.8,"clip":true,"interpolate":"monotone"},
   "encoding":{"x":{"field":"t","type":"quantitative","axis":null},"y":{"field":"v","type":"quantitative","axis":null},
   "color":{"datum":"Observation","type":"nominal","title":null,"scale":{"domain":["Observation","Simulation","Assimilation"],"range":["#000000","#1212e8","#e31a22"]}}}},
  {"data":{"name":"win"},"mark":{"type":"rule","strokeDash":[8,6],"color":"#b48ad0","strokeWidth":1.2},
   "encoding":{"x":{"field":"t","type":"quantitative","axis":null}}}
 ],
 "resolve":{"axis":{"x":"independent","y":"independent"}}
},
{"width":310,"height":239,
 "title":{"text":"Sant Antoni","fontSize":25,"fontWeight":"normal","offset":-47,"frame":"group","anchor":"middle"},
 "layer":[
  {"data":{"name":"aSb"},"mark":{"type":"line","strokeWidth":1.3,"clip":true,"interpolate":"monotone"},
   "encoding":{"x":{"field":"t","type":"quantitative","title":null,"scale":{"domain":[0,150]},"axis":{"orient":"bottom","values":[0,50,100,150],"labels":true}},
   "y":{"field":"v","type":"quantitative","title":null,"scale":{"domain":[-100,150]},"axis":{"orient":"left","values":[-100,-50,0,50,100,150]}},
   "color":{"datum":"Assimilation","type":"nominal","title":null,"scale":{"domain":["Observation","Simulation","Assimilation"],"range":["#000000","#1212e8","#e31a22"]}}}},
  {"data":{"name":"sS"},"mark":{"type":"line","strokeWidth":1.5,"clip":true,"interpolate":"monotone"},
   "encoding":{"x":{"field":"t","type":"quantitative","title":null,"axis":{"orient":"top","values":[0,50,100,150],"labels":false}},
   "y":{"field":"v","type":"quantitative","title":null,"axis":{"orient":"right","values":[-100,-50,0,50,100,150],"labels":false}},
   "color":{"datum":"Simulation","type":"nominal","title":null,"scale":{"domain":["Observation","Simulation","Assimilation"],"range":["#000000","#1212e8","#e31a22"]}}}},
  {"data":{"name":"oS"},"mark":{"type":"line","strokeWidth":1.8,"clip":true,"interpolate":"monotone"},
   "encoding":{"x":{"field":"t","type":"quantitative","axis":null},"y":{"field":"v","type":"quantitative","axis":null},
   "color":{"datum":"Observation","type":"nominal","title":null,"scale":{"domain":["Observation","Simulation","Assimilation"],"range":["#000000","#1212e8","#e31a22"]}}}},
  {"data":{"name":"win"},"mark":{"type":"rule","strokeDash":[8,6],"color":"#a0a0a0","strokeWidth":1.2},
   "encoding":{"x":{"field":"t","type":"quantitative","axis":null}}}
 ],
 "resolve":{"axis":{"x":"independent","y":"independent"}}
}
]
}
]
}
]
}
],
"spacing":26,
"config":{
 "font":"Liberation Sans",
 "locale":{"number":{"decimal":".","thousands":",","grouping":[3],"currency":["$",""],"minus":"-"}},
 "view":{"stroke":"#000","strokeWidth":1},
 "axis":{"domain":false,"grid":false,"tickSize":-6,"tickColor":"#000","tickWidth":1,"labelFontSize":21,"labelColor":"#000","labelPadding":10,"labelFlush":false,"labelOverlap":false},
 "axisX":{"labelPadding":14},
 "title":{"color":"#000"}
}
}
